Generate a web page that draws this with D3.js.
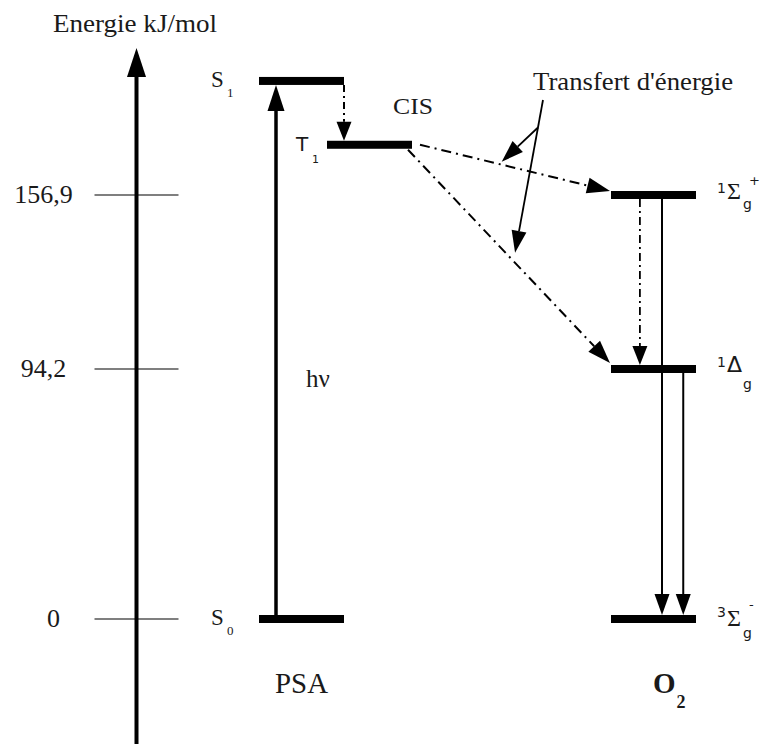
<!DOCTYPE html>
<html>
<head>
<meta charset="utf-8">
<script src="https://cdn.jsdelivr.net/npm/d3@7"></script>
<style>
  body { margin: 0; background: #fff; }
  text { font-family: "Liberation Serif", "Times New Roman", serif; fill: #1a1a1a; }
  .sans { font-family: "DejaVu Sans", sans-serif; }
</style>
</head>
<body>
<svg width="763" height="744"></svg>
<script>
// energy levels (kJ/mol) - S1 and T1
const levelIds = ['S0', 'S1', 'T1', 'O2g3', 'O2d1', 'O2s1'];
const levelEnergy = [0, 198, 175, 0, 94.2, 156.9];
const levelColumn = ['singulet', 'singulet', 'triplet', 'O2', 'O2', 'O2'];

const tickValues = [0, 94.2, 156.9];

// transitions between levels
const transFrom = ['S0', 'S1', 'T1', 'T1', 'O2s1', 'O2s1', 'O2d1'];
const transTo = ['S1', 'T1', 'O2s1', 'O2d1', 'O2d1', 'O2g3', 'O2g3'];
const transKind = ['abs', 'cis', 'transfer', 'transfer', 'relax', 'emit', 'emit'];

const svg = d3.select('svg');

// scales
const yScale = d3.scaleLinear().domain([0, 94.2, 156.9]).range([619, 369, 195]);
const xScale = d3.scaleOrdinal().domain(['singulet', 'triplet', 'O2']).range([259, 327, 611]);
const levelW = 85, levelH = 8;

const levels = levelIds.map((id, i) => ({ id, e: levelEnergy[i], col: levelColumn[i] }));
const byId = {};
levels.forEach(l => {
  l.x0 = xScale(l.col);
  l.x1 = l.x0 + levelW;
  l.y = yScale(l.e);
  byId[l.id] = l;
});

// filled arrowhead at (x,y) pointing along (dx,dy)
function arrowHead(g, x, y, dx, dy, len, half) {
  const n = Math.hypot(dx, dy), ux = dx / n, uy = dy / n;
  const bx = x - ux * len, by = y - uy * len;
  g.append('path')
    .attr('d', `M${x},${y}L${bx - uy * half},${by + ux * half}L${bx + uy * half},${by - ux * half}Z`)
    .attr('fill', '#000');
  return [bx, by];
}

function arrow(g, x1, y1, x2, y2, opts) {
  const [bx, by] = arrowHead(g, x2, y2, x2 - x1, y2 - y1, opts.len, opts.half);
  g.append('line')
    .attr('x1', x1).attr('y1', y1).attr('x2', bx).attr('y2', by)
    .attr('stroke', '#000')
    .attr('stroke-width', opts.w)
    .attr('stroke-dasharray', opts.dash || null);
}

// text stretched a little wider, like the original drawing
function label(x, y, str, size, len, cls) {
  const t = svg.append('text').attr('x', x).attr('y', y).style('font-size', size + 'px').text(str);
  if (len) t.attr('textLength', len).attr('lengthAdjust', 'spacingAndGlyphs');
  if (cls) t.attr('class', cls);
  return t;
}

// energy axis
const axisX = 136.5;
const fmt = d3.formatLocale({ decimal: ',', thousands: ' ', grouping: [3], currency: ['', ''] }).format('~g');
const axisG = svg.append('g').attr('transform', `translate(${axisX},0)`);
axisG.call(d3.axisLeft(yScale).tickValues(tickValues).tickSize(0).tickFormat(fmt))
  .call(g => g.select('.domain').remove())
  .call(g => g.selectAll('.tick text')
    .attr('x', d => d === 0 ? -83 : -93)
    .attr('dy', '0.3em')
    .attr('text-anchor', 'middle')
    .style('font-family', '"Liberation Serif", serif')
    .style('font-size', '26px')
    .attr('fill', '#333'));
axisG.selectAll('.tickline')
  .data(tickValues)
  .join('line')
  .attr('x1', -42).attr('x2', 42)
  .attr('y1', d => yScale(d)).attr('y2', d => yScale(d))
  .attr('stroke', '#555').attr('stroke-width', 1.3);

arrow(svg, axisX, 744, axisX, 48, { len: 29, half: 9.5, w: 4 });

label(53, 32, 'Energie kJ/mol', 25, 164);

// level bars
svg.selectAll('.level')
  .data(levels)
  .join('rect')
  .attr('class', 'level')
  .attr('x', d => d.x0)
  .attr('y', d => d.y - levelH / 2)
  .attr('width', levelW)
  .attr('height', levelH)
  .attr('fill', '#000');

// transitions
const tg = svg.append('g');
transFrom.forEach((f, i) => {
  const a = byId[f], b = byId[transTo[i]], k = transKind[i];
  if (k === 'abs') {
    const x = a.x0 + levelW * 0.2;
    arrow(tg, x, a.y, x, b.y + levelH / 2, { len: 26, half: 8.5, w: 3.5 });
  } else if (k === 'cis') {
    const x = a.x1;
    arrow(tg, x, a.y + levelH / 2, x, b.y - levelH / 2, { len: 19, half: 7.5, w: 2, dash: '7,4,2,4' });
  } else if (k === 'transfer') {
    const yEnd = b.y - levelH / 2 - (b.id === 'O2s1' ? 0 : 2);
    const start = b.id === 'O2s1' ? [a.x1 + 8, a.y] : [a.x1 - 4, a.y + levelH / 2 + 1];
    const end = [b.x0 - 1, yEnd];
    a['to_' + b.id] = [start, end];
    arrow(tg, start[0], start[1], end[0], end[1], { len: 23, half: 8, w: 2, dash: '10,5,2,5' });
  } else if (k === 'relax') {
    const x = a.x0 + levelW * 0.34;
    arrow(tg, x, a.y + levelH / 2, x, b.y - levelH / 2, { len: 19, half: 7.5, w: 1.8, dash: '8,4,2,4' });
  } else {
    const x = a.x0 + levelW * (a.id === 'O2s1' ? 0.6 : 0.85);
    arrow(tg, x, a.y, x, b.y - levelH / 2, { len: 21, half: 7.5, w: 2 });
  }
});

// pointer arrows from the "Transfert d'énergie" label
const t1 = byId['T1'];
const lerp = (seg, t) => [seg[0][0] + (seg[1][0] - seg[0][0]) * t, seg[0][1] + (seg[1][1] - seg[0][1]) * t];
const tipA = lerp(t1['to_O2s1'], 0.43);
const tipB = lerp(t1['to_O2d1'], 0.53);
const src = [543, 100];
arrow(svg, src[0], src[1], tipB[0], tipB[1] - 10, { len: 22, half: 7.5, w: 1.8 });
const junction = [src[0] + (tipB[0] - src[0]) * 0.18, src[1] + (tipB[1] - 10 - src[1]) * 0.18];
arrow(svg, junction[0], junction[1], tipA[0], tipA[1] - 3, { len: 22, half: 7.5, w: 1.8 });

label(533, 90, "Transfert d'énergie", 25.5, 200);
label(393, 114, 'CIS', 23, 40);
label(306, 387, 'hν', 25);
label(275, 693, 'PSA', 29, 53);

const o2 = svg.append('text').attr('x', 653).attr('y', 693).style('font-size', '29px').style('font-weight', 'bold');
o2.append('tspan').text('O');
o2.append('tspan').attr('dx', 1).attr('dy', 15).style('font-size', '18px').text('2');

// state labels with subscripts
function stateLabel(lvl, x, main, sub, cls, size, subSize, subDy) {
  const y = byId[lvl].y;
  const g = svg.append('g');
  g.append('text').attr('x', x).attr('y', y + 6).attr('class', cls || null)
    .style('font-size', size + 'px').text(main);
  g.append('text').attr('x', x + 16).attr('y', y + subDy).attr('class', cls || null)
    .style('font-size', subSize + 'px').text(sub);
}
stateLabel('S1', 211, 'S', '1', null, 23, 13, 16);
stateLabel('S0', 211, 'S', '0', null, 23, 13, 16);
stateLabel('T1', 296, 'T', '1', 'sans', 20, 11, 18);

function termLabel(lvl, pre, sym, sub, sup, symCls, symDy, subDy) {
  const y = byId[lvl].y;
  const g = svg.append('g');
  g.append('text').attr('class', 'sans').attr('x', 717).attr('y', y - 2).style('font-size', '14px').text(pre);
  g.append('text').attr('x', 727).attr('y', y + symDy).attr('class', symCls || null)
    .style('font-size', symCls ? '22px' : '24px').text(sym);
  g.append('text').attr('class', 'sans').attr('x', 743).attr('y', y + subDy).style('font-size', '14px').text(sub);
  if (sup) g.append('text').attr('class', 'sans').attr('x', 749).attr('y', y - 10).style('font-size', '13px').text(sup);
}
termLabel('O2s1', '1', 'Σ', 'g', '+', null, 4, 14);
termLabel('O2d1', '1', 'Δ', 'g', null, 'sans', 3, 20);
termLabel('O2g3', '3', 'Σ', 'g', '-', null, 7, 19);
</script>
</body>
</html>
